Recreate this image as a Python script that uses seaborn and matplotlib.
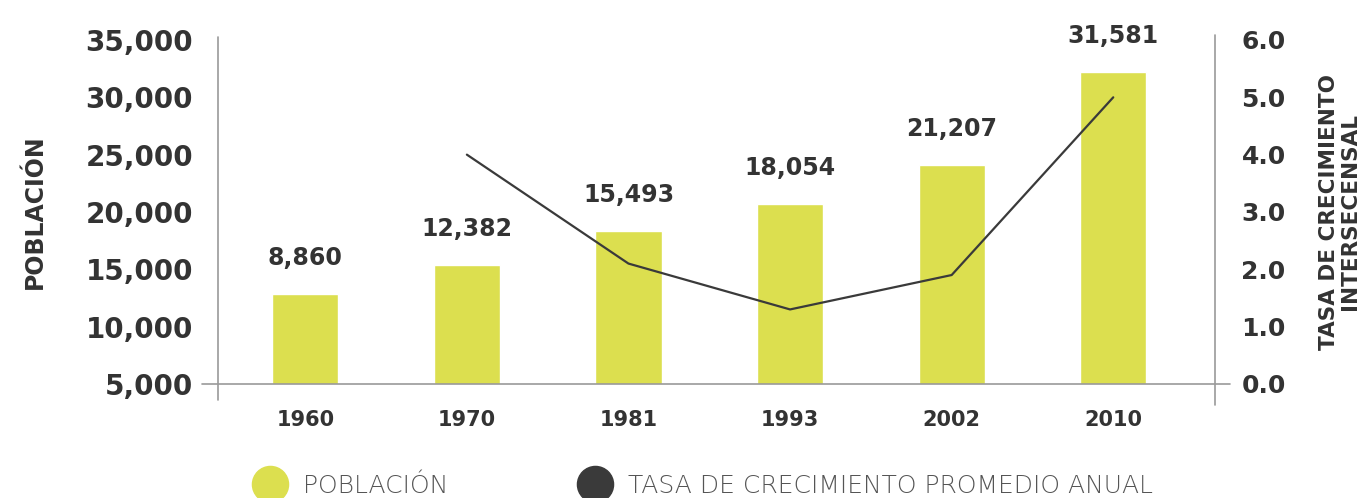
import numpy as np
import pandas as pd
import matplotlib
matplotlib.use("Agg")
import matplotlib.pyplot as plt
from matplotlib.lines import Line2D
import seaborn as sns

# ---- data ----
years = ["1960", "1970", "1981", "1993", "2002", "2010"]
population_labels = [8860, 12382, 15493, 18054, 21207, 31581]
bar_heights = [12850, 15380, 18350, 20700, 24110, 32230]   # heights as drawn in the picture
rate_years = ["1970", "1981", "1993", "2002", "2010"]
growth_rate = [4.0, 2.1, 1.3, 1.9, 5.0]
left_ticks = [5000, 10000, 15000, 20000, 25000, 30000, 35000]
right_ticks = [0.0, 1.0, 2.0, 3.0, 4.0, 5.0, 6.0]

BAR = "#dcdf4f"
LINE = "#3a3a3a"
TXT = "#333333"
AXC = "#9a9a9a"

sns.set_theme(style="white")
plt.rcParams["font.family"] = ["DejaVu Sans"]

fig = plt.figure(figsize=(13.66, 4.98), dpi=100)
ax = fig.add_axes([0.1596, 0.229, 0.7299, 0.6907])

df = pd.DataFrame({"year": years, "pop": bar_heights})
sns.barplot(data=df, x="year", y="pop", color=BAR, width=0.41, ax=ax,
            saturation=1, order=years)
ax.set_ylim(5000, 35000)
ax.set_xlim(-0.54, 5.63)
ax.set_yticks(left_ticks)
ax.set_yticklabels([f"{v:,}" for v in left_ticks], fontsize=20,
                   fontweight="bold", color=TXT)
ax.set_xticks(range(len(years)))
ax.set_xticklabels(years, fontsize=15, fontweight="bold", color=TXT)
ax.tick_params(axis="y", length=0, pad=18)
ax.tick_params(axis="x", length=0, pad=19)
ax.set_xlabel("")
ax.set_ylabel("POBLACIÓN", fontsize=17, fontweight="bold", color=TXT, labelpad=28)
for s in ax.spines.values():
    s.set_visible(False)

# value labels
for i, (h, lab) in enumerate(zip(bar_heights, population_labels)):
    ax.annotate(f"{lab:,}", xy=(i, h), xytext=(0, 17), textcoords="offset points",
                ha="center", va="bottom", fontsize=17, fontweight="bold", color=TXT)

# axis lines (extending past the crossing points)
ax.plot([0, 0], [-0.047, 1.009], transform=ax.transAxes, color=AXC, lw=1.2, clip_on=False)
ax.plot([-0.016, 1.015], [0, 0], transform=ax.transAxes, color=AXC, lw=1.2, clip_on=False)
ax.plot([1, 1], [-0.06, 1.015], transform=ax.transAxes, color=AXC, lw=1.2, clip_on=False)

# line on twin axis
ax2 = ax.twinx()
xpos = [years.index(y) for y in rate_years]
sns.lineplot(x=xpos, y=growth_rate, ax=ax2, color=LINE, lw=1.6)
ax2.set_ylim(0, 6)
ax2.set_xlim(-0.54, 5.63)
ax2.set_yticks(right_ticks)
ax2.set_yticklabels([f"{v:.1f}" for v in right_ticks], fontsize=18,
                    fontweight="bold", color=TXT)
ax2.tick_params(axis="y", length=0, pad=19)
ax2.set_ylabel("TASA DE CRECIMIENTO\nINTERSECENSAL", fontsize=15.5, fontweight="bold",
               color=TXT, labelpad=24, linespacing=1.05)
for s in ax2.spines.values():
    s.set_visible(False)
ax2.grid(False)
ax.grid(False)

# legend
handles = [
    Line2D([], [], marker="o", linestyle="", markersize=26, color=BAR),
    Line2D([], [], marker="o", linestyle="", markersize=26, color=LINE),
]
labels = ["POBLACIÓN", "TASA DE CRECIMIENTO PROMEDIO ANUAL"]
leg = fig.legend(handles, labels, loc="center left", bbox_to_anchor=(0.163, 0.025),
                 ncol=2, frameon=False, columnspacing=4.9, handletextpad=0.3,
                 prop={"family": "DejaVu Sans", "size": 18, "weight": "light"},
                 labelcolor="#555555")

fig.savefig("out.png", dpi=100, facecolor="white")
